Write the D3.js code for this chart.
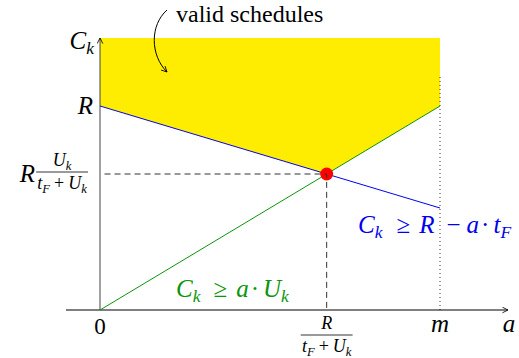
<!DOCTYPE html>
<html>
  <head>
    <meta charset="UTF-8" />
  </head>
  <body style="margin:0">
    <svg id="svg" width="519" height="358"></svg>
    <script src="https://cdn.jsdelivr.net/npm/d3@7"></script>
    <script>
      // model values (a on x, C_k on y)
      const R = 3;
      const tF = 0.5;
      const Uk = 1;
      const m = 3;
      const aRange = [-0.3, 3.6];
      const cTop = 4;
      const aStar = R / (tF + Uk);
      const cStar = R * Uk / (tF + Uk);

      const FONT = "Liberation Serif";
      const green = "#0b950b";
      const blue = "#0000ee";
      const yellow = "#ffed00";

      const svg = d3.select("#svg");
      const x = d3.scaleLinear().domain([0, m]).range([100, 440]);
      const y = d3.scaleLinear().domain([0, cTop]).range([310, 38]);

      const line = d3.line().x((d) => x(d[0])).y((d) => y(d[1]));

      svg.append("defs").append("marker")
        .attr("id", "tip").attr("viewBox", "0 0 10 10")
        .attr("refX", 9).attr("refY", 5)
        .attr("markerWidth", 7).attr("markerHeight", 7)
        .attr("orient", "auto-start-reverse")
        .append("path").attr("d", "M1,1 L9,5 L1,9").attr("fill", "none")
        .attr("stroke", "#000").attr("stroke-width", 1.2);

      // valid region
      svg.append("path")
        .datum([[0, R], [0, cTop], [m, cTop], [m, m * Uk], [aStar, cStar]])
        .attr("d", (d) => line(d) + "Z")
        .attr("fill", yellow);

      // dotted line at m
      svg.append("path").datum([[m, 0], [m, 3.44]]).attr("d", line)
        .attr("stroke", "#333").attr("stroke-width", 1).attr("stroke-dasharray", "1 3").attr("fill", "none");

      // axes
      svg.append("path").datum([[aRange[0], 0], [aRange[1], 0]]).attr("d", line)
        .attr("stroke", "#000").attr("stroke-width", 1).attr("marker-end", "url(#tip)");
      svg.append("path").datum([[0, 0], [0, cTop]]).attr("d", line)
        .attr("stroke", "#444").attr("stroke-width", 1).attr("marker-end", "url(#tip)");

      // constraint lines
      svg.append("path").datum([[0, 0], [m, m * Uk]]).attr("d", line)
        .attr("stroke", green).attr("stroke-width", 1).attr("fill", "none");
      svg.append("path").datum([[0, R], [m, R - m * tF]]).attr("d", line)
        .attr("stroke", blue).attr("stroke-width", 1).attr("fill", "none");

      // optimum point
      svg.append("circle").attr("cx", x(aStar)).attr("cy", y(cStar)).attr("r", 6.5).attr("fill", "#ff0000");

      // dashed guides
      svg.append("path").datum([[0.04, cStar], [aStar, cStar], [aStar, 0]]).attr("d", line)
        .attr("stroke", "#333").attr("stroke-width", 1).attr("stroke-dasharray", "6 4").attr("fill", "none");

      // math text helper: parts = [text, kind, gapBefore]
      // kind i (italic), r (roman), s (italic subscript)
      function math(parent, px, py, parts, size, color, anchor) {
        const t = parent.append("text").attr("x", px).attr("y", py)
          .attr("font-family", FONT)
          .attr("font-size", size).attr("fill", color || "#000")
          .attr("text-anchor", anchor || "start");
        let sub = false;
        parts.forEach(([s, k, gap]) => {
          const ts = t.append("tspan").attr("font-family", FONT).text(s);
          if (gap) ts.attr("dx", gap);
          if (k === "s") {
            ts.attr("font-style", "italic").attr("font-size", size * 0.7);
            if (!sub) ts.attr("dy", size * 0.2);
            sub = true;
          } else {
            if (sub) ts.attr("dy", -size * 0.2);
            sub = false;
            if (k === "i") ts.attr("font-style", "italic");
          }
        });
        return t;
      }

      function frac(px, cy, num, den, size, anchor) {
        const g = svg.append("g");
        const n = math(g, px, cy - 8, num, size, "#000", "middle");
        const d = math(g, px, cy + 15, den, size, "#000", "middle");
        const w = Math.max(n.node().getBBox().width, d.node().getBBox().width) + 2;
        let cx = px;
        if (anchor === "end") cx = px - w / 2;
        n.attr("x", cx); d.attr("x", cx);
        g.append("line").attr("x1", cx - w / 2).attr("x2", cx + w / 2)
          .attr("y1", cy - 2).attr("y2", cy - 2).attr("stroke", "#000").attr("stroke-width", 0.8);
        return cx - w / 2;
      }

      const denom = [["t", "i"], ["F", "s"], ["+", "r", 4], ["U", "i", 4], ["k", "s"]];

      // axis labels
      math(svg, x(0) - 6, y(cTop) + 11, [["C", "i"], ["k", "s"]], 25, "#000", "end");
      math(svg, x(0) - 7, y(R) + 8, [["R", "i"]], 25, "#000", "end");
      const left = frac(x(0) - 12, y(cStar), [["U", "i"], ["k", "s"]], denom, 18, "end");
      math(svg, left - 1, y(cStar) + 8, [["R", "i"]], 25, "#000", "end");

      math(svg, x(0), 334, [["0", "r"]], 23, "#000", "middle");
      frac(x(aStar), 337, [["R", "i"]], denom, 18);
      math(svg, x(m), 332, [["m", "i"]], 25, "#000", "middle");
      math(svg, x(aRange[1]) + 1, 332, [["a", "i"]], 25, "#000", "middle");

      // constraint labels
      math(svg, 176, 297, [["C", "i"], ["k", "s"], ["\u2265", "r", 13], ["a", "i", 9], ["\u00b7", "r", 2], ["U", "i", 4], ["k", "s"]], 25, green);
      math(svg, 358, 233, [["C", "i"], ["k", "s"], ["\u2265", "r", 14], ["R", "i", 9], ["\u2212", "r", 12], ["a", "i", 6], ["\u00b7", "r", 2], ["t", "i", 4], ["F", "s"]], 25, blue);

      // annotation
      svg.append("text").attr("x", 176).attr("y", 22).attr("font-family", FONT)
        .attr("font-size", 24).text("valid schedules");
      svg.append("path").attr("d", "M167,10 C150,25 150,55 167,72")
        .attr("fill", "none").attr("stroke", "#000").attr("stroke-width", 1).attr("marker-end", "url(#tip)");
    </script>
  </body>
</html>
